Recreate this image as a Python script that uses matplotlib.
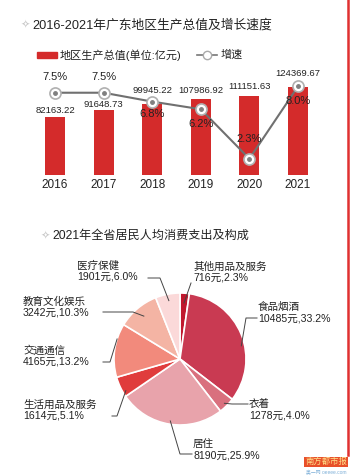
import numpy as np
import matplotlib
matplotlib.use('Agg')
import matplotlib.pyplot as plt
from matplotlib.lines import Line2D
from matplotlib.patches import Rectangle

plt.rcParams['font.family'] = ['Liberation Sans', 'Noto Sans CJK SC', 'DejaVu Sans']

# data
years = ['2016', '2017', '2018', '2019', '2020', '2021']
gdp = [82163.22, 91648.73, 99945.22, 107986.92, 111151.63, 124369.67]
growth = [7.5, 7.5, 6.8, 6.2, 2.3, 8.0]
growth_labels = ['7.5%', '7.5%', '6.8%', '6.2%', '2.3%', '8.0%']

cats = ['其他用品及服务', '食品烟酒', '衣着', '居住', '生活用品及服务', '交通通信', '教育文化娱乐', '医疗保健']
spend = [716, 10485, 1278, 8190, 1614, 4165, 3242, 1901]
shares = ['2.3%', '33.2%', '4.0%', '25.9%', '5.1%', '13.2%', '10.3%', '6.0%']
pie_colors = ['#c0182e', '#c93a52', '#d9707e', '#e8a3ab', '#e03c3c', '#f28a7c', '#f4b4a4', '#fbd9d9']

W, H = 353, 475
fig = plt.figure(figsize=(W / 100, H / 100), dpi=100)
fig.patch.set_facecolor('white')

def px(x, y):
    return x / W, 1 - y / H

def box(x0, y0, x1, y1):
    return [x0 / W, 1 - y1 / H, (x1 - x0) / W, (y1 - y0) / H]

# titles
fig.text(*px(25, 25), '✧', family='DejaVu Sans', fontsize=8, color='#c8c8c8', va='center', ha='center')
fig.text(*px(32, 25), '2016-2021年广东地区生产总值及增长速度', fontsize=9.2, va='center', color='#222222')
fig.text(*px(45, 236), '✧', family='DejaVu Sans', fontsize=8, color='#c8c8c8', va='center', ha='center')
fig.text(*px(52, 236), '2021年全省居民人均消费支出及构成', fontsize=8.7, va='center', color='#222222')

# legend
fig.add_artist(Rectangle(px(37, 57.5), 20 / W, 5 / H, transform=fig.transFigure, color='#d42b2b'))
fig.text(*px(60, 55), '地区生产总值(单位:亿元)', fontsize=8, va='center', color='#222222')
fig.add_artist(Line2D([197 / W, 217 / W], [1 - 55 / H] * 2, transform=fig.transFigure, color='#777777', lw=1.2))
fig.add_artist(Line2D([207 / W], [1 - 55 / H], transform=fig.transFigure, marker='o', ms=6,
                      mfc='white', mec='#aaaaaa', mew=1))
fig.text(*px(221, 55), '增速', fontsize=8, va='center', color='#222222')

# bar chart
ax = fig.add_axes(box(30.7, 70, 322.3, 175))
x = np.arange(len(years))
ax.bar(x, gdp, width=0.41, color='#d42b2b', zorder=1)
ax.set_xlim(-0.5, 5.5)
ax.set_ylim(0, 148400)
for s in ax.spines.values():
    s.set_visible(False)
ax.set_yticks([])
ax.set_xticks(x)
ax.set_xticklabels(years, fontsize=8.5, color='#222222')
ax.tick_params(axis='x', length=0, pad=3)
val_off = [6, 6, 14, 8, 10, 14]
for i, v in enumerate(gdp):
    ax.annotate(f'{v:.2f}', (i, v), xytext=(0, val_off[i]), textcoords='offset pixels',
                ha='center', va='center', fontsize=6.8, color='#222222', zorder=5)

ax2 = ax.twinx()
ax2.set_ylim(1.02, 9.29)
ax2.axis('off')
ax2.plot(x, growth, color='#707070', lw=1.5, zorder=2)
ax2.plot(x, growth, 'o', ms=8, mfc='white', mec='#b0b0b0', mew=1.2, zorder=3)
ax2.plot(x, growth, 'o', ms=2.5, color='#808080', zorder=4)
pct_off = [16, 16, -12, -15, 20, -15]
for i, v in enumerate(growth):
    ax2.annotate(growth_labels[i], (i, v), xytext=(0, pct_off[i]), textcoords='offset pixels',
                 ha='center', va='center', fontsize=8, color='#222222', zorder=6)

# pie chart
cx, cy, r = 180, 359, 66
pa = fig.add_axes(box(cx - r * 1.1, cy - r * 1.1, cx + r * 1.1, cy + r * 1.1))
wedges, _ = pa.pie(spend, colors=pie_colors, startangle=90, counterclock=False,
                   wedgeprops=dict(edgecolor='white', linewidth=1.2))
pa.set_xlim(-1.1, 1.1)
pa.set_ylim(-1.1, 1.1)
pa.set_aspect('equal')
pa.axis('off')

# label text position (pixels), elbow point, anchor (angle offset deg, radius), line start
label_pos = {
    '医疗保健': (77, 271, (160, 278), (0, 0.9), (148, 278)),
    '教育文化娱乐': (23, 307, (133, 312), (0, 0.85), (103, 312)),
    '交通通信': (23, 356, (110, 362), (-10, 1.0), (103, 362)),
    '生活用品及服务': (23, 410, (117, 416), (5, 0.95), (112, 416)),
    '居住': (193, 450, (180, 454), (0, 0.95), (192, 454)),
    '衣着': (249, 410, (232, 404), (0, 0.95), (248, 404)),
    '食品烟酒': (258, 313, (246, 318), (-10, 0.95), (257, 318)),
    '其他用品及服务': (193, 272, (191, 283), (0, 0.85), (191, 283)),
}
for w, name, val, sh in zip(wedges, cats, spend, shares):
    tx, ty, elbow, (da, rr), tend = label_pos[name]
    fig.text(*px(tx, ty), f'{name}\n{val}元,{sh}', fontsize=7.6, ha='left', va='center',
             linespacing=1.15, color='#222222')
    ang = np.deg2rad((w.theta1 + w.theta2) / 2 + da)
    ax_pt = (cx + r * rr * np.cos(ang), cy - r * rr * np.sin(ang))
    xs = [tend[0], elbow[0], ax_pt[0]]
    ys = [tend[1], elbow[1], ax_pt[1]]
    fig.add_artist(Line2D([p / W for p in xs], [1 - p / H for p in ys], transform=fig.transFigure,
                          color='#444444', lw=0.7))

# frame line and watermark
fig.add_artist(Line2D([348 / W] * 2, [1, 1 - 455 / H], transform=fig.transFigure, color='#e03030', lw=1.8))
fig.text(*px(326, 462), '南方都市报', fontsize=6, ha='center', va='center', color='#ffe08a',
         bbox=dict(boxstyle='square,pad=0.15', fc='#e8502a', ec='none'))
fig.text(*px(326, 472), '奥一网 oeeee.com', fontsize=3.5, ha='center', va='center', color='#7fb0d8')

fig.savefig('out.png', dpi=100, facecolor='white')
